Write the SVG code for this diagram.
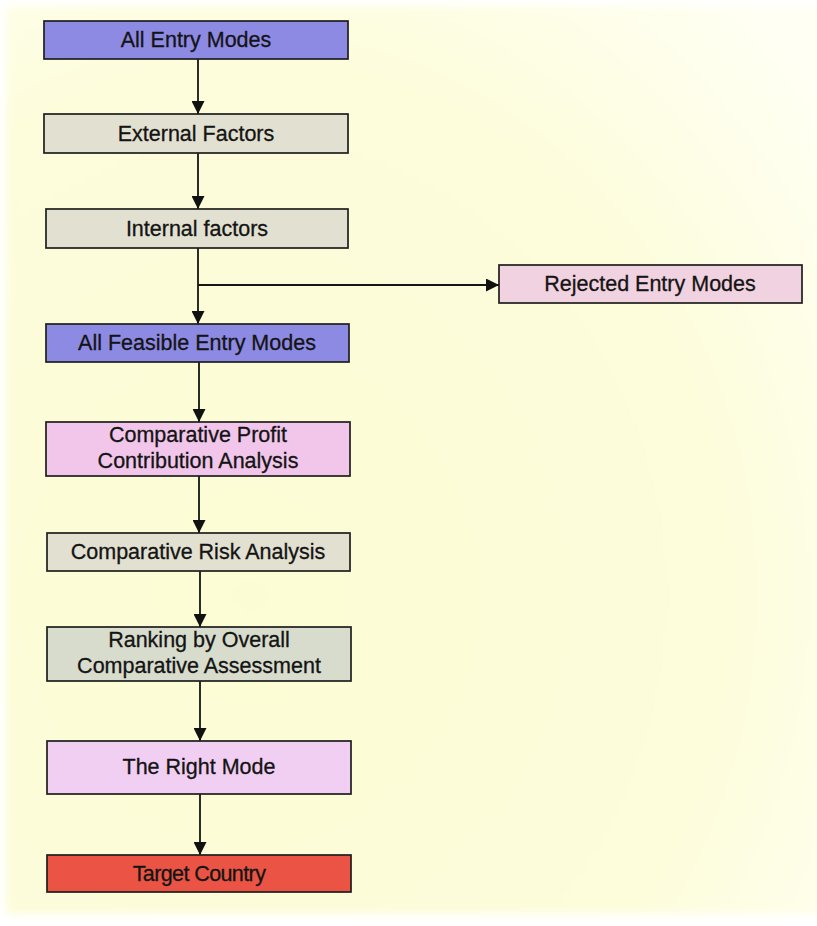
<svg xmlns="http://www.w3.org/2000/svg" width="817" height="926" viewBox="0 0 817 926">
  <defs>
    <radialGradient id="paper" cx="0.3" cy="0.65" r="0.9">
      <stop offset="0" stop-color="#fcfcd4"/>
      <stop offset="0.65" stop-color="#fdfddc"/>
      <stop offset="1" stop-color="#fffff4"/>
    </radialGradient>
    <filter id="soft" x="-5%" y="-5%" width="110%" height="110%">
      <feGaussianBlur stdDeviation="4"/>
    </filter>
    <marker id="arrow" viewBox="0 0 13 13" refX="13" refY="6.5" markerWidth="13" markerHeight="13" markerUnits="userSpaceOnUse" orient="auto">
      <path d="M0,0 L13,6.5 L0,13 Z" fill="#111"/>
    </marker>
    <style>
      .box { stroke: #1e1e1e; stroke-width: 1.7; }
      .label { font-family: "Liberation Sans", Arial, sans-serif; font-size: 21.5px; fill: #141414; stroke: #141414; stroke-width: 0.3; text-anchor: middle; }
      .edge { stroke: #151515; stroke-width: 1.8; fill: none; }
      .blue { fill: #8d8ae4; }
      .grey { fill: #e2e0d0; }
      .sage { fill: #d8dccd; }
      .pink { fill: #f1c6ea; }
      .lilac { fill: #f0cff2; }
      .rose { fill: #f1d2e0; }
      .red { fill: #eb5444; }
    </style>
  </defs>

  <!-- paper -->
  <rect x="0" y="0" width="817" height="926" fill="#ffffff"/>
  <rect x="6" y="6" width="815" height="908" fill="url(#paper)" filter="url(#soft)"/>

  <!-- connectors -->
  <g id="connectors">
    <line class="edge" x1="198" y1="59" x2="198" y2="114" marker-end="url(#arrow)"/>
    <line class="edge" x1="198" y1="153" x2="198" y2="209" marker-end="url(#arrow)"/>
    <line class="edge" x1="198" y1="248" x2="198" y2="324" marker-end="url(#arrow)"/>
    <line class="edge" x1="198" y1="285" x2="499" y2="285" marker-end="url(#arrow)"/>
    <line class="edge" x1="199" y1="362" x2="199" y2="422" marker-end="url(#arrow)"/>
    <line class="edge" x1="199" y1="476" x2="199" y2="533" marker-end="url(#arrow)"/>
    <line class="edge" x1="200" y1="571" x2="200" y2="627" marker-end="url(#arrow)"/>
    <line class="edge" x1="200" y1="681" x2="200" y2="741" marker-end="url(#arrow)"/>
    <line class="edge" x1="200" y1="794" x2="200" y2="855" marker-end="url(#arrow)"/>
  </g>

  <g id="all-entry-modes">
    <rect class="box blue" x="44" y="21" width="304" height="38"/>
    <text class="label" x="196" y="47">All Entry Modes</text>
  </g>

  <g id="external-factors">
    <rect class="box grey" x="44" y="114" width="304" height="39"/>
    <text class="label" x="196" y="141">External Factors</text>
  </g>

  <g id="internal-factors">
    <rect class="box grey" x="46" y="209" width="302" height="39"/>
    <text class="label" x="197" y="236">Internal factors</text>
  </g>

  <g id="rejected-entry-modes">
    <rect class="box rose" x="499" y="265" width="303" height="38"/>
    <text class="label" x="650" y="291">Rejected Entry Modes</text>
  </g>

  <g id="all-feasible-entry-modes">
    <rect class="box blue" x="46" y="324" width="303" height="38"/>
    <text class="label" x="197" y="350">All Feasible Entry Modes</text>
  </g>

  <g id="profit-contribution">
    <rect class="box pink" x="46" y="422" width="304" height="54"/>
    <text class="label" x="198" y="442">Comparative Profit</text>
    <text class="label" x="198" y="468">Contribution Analysis</text>
  </g>

  <g id="risk-analysis">
    <rect class="box grey" x="47" y="533" width="303" height="38"/>
    <text class="label" x="198" y="559">Comparative Risk Analysis</text>
  </g>

  <g id="ranking">
    <rect class="box sage" x="47" y="627" width="304" height="54"/>
    <text class="label" x="199" y="647">Ranking by Overall</text>
    <text class="label" x="199" y="673">Comparative Assessment</text>
  </g>

  <g id="right-mode">
    <rect class="box lilac" x="47" y="741" width="304" height="53"/>
    <text class="label" x="199" y="774">The Right Mode</text>
  </g>

  <g id="target-country">
    <rect class="box red" x="47" y="855" width="304" height="37"/>
    <text class="label" x="199" y="881" style="letter-spacing:-0.6px">Target Country</text>
  </g>
</svg>
